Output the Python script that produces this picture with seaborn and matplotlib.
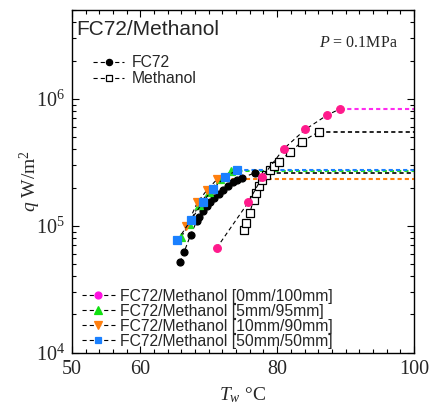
import matplotlib
matplotlib.use("Agg")
import matplotlib.pyplot as plt
import seaborn as sns
import pandas as pd
from matplotlib.lines import Line2D
from matplotlib.ticker import FixedLocator, FixedFormatter, MultipleLocator, NullFormatter

# ---------------- data ----------------
fc72_T = [65.79, 66.37, 67.35, 68.23, 68.61, 69.20, 69.69, 70.18, 70.76, 71.54,
          72.15, 72.85, 73.49, 74.17, 74.93, 76.75]
fc72_q = [5.15e4, 6.16e4, 8.49e4, 1.08e5, 1.18e5, 1.30e5, 1.42e5, 1.53e5, 1.65e5, 1.79e5,
          1.92e5, 2.05e5, 2.20e5, 2.31e5, 2.39e5, 2.61e5]

meth_T = [75.19, 75.48, 76.02, 76.54, 76.90, 77.34, 77.85, 78.36, 78.95, 79.53,
          80.26, 81.87, 83.63, 86.07]
meth_q = [9.29e4, 1.05e5, 1.27e5, 1.60e5, 1.81e5, 2.04e5, 2.31e5, 2.53e5, 2.77e5, 2.98e5,
          3.20e5, 3.79e5, 4.60e5, 5.49e5]

m0_T = [71.15, 75.78, 77.82, 80.95, 84.11, 87.28, 89.23]
m0_q = [6.67e4, 1.53e5, 2.42e5, 4.03e5, 5.73e5, 7.42e5, 8.34e5]

m5_T = [66.01, 67.11, 68.57, 70.03, 71.64, 73.32]
m5_q = [8.19e4, 1.04e5, 1.46e5, 1.85e5, 2.35e5, 2.69e5]

m10_T = [66.74, 68.35, 69.74, 71.27]
m10_q = [9.87e4, 1.53e5, 1.91e5, 2.34e5]

m50_T = [65.42, 67.40, 69.20, 70.57, 72.44, 74.08]
m50_q = [7.68e4, 1.11e5, 1.55e5, 1.95e5, 2.43e5, 2.73e5]

T_max = 100  # right end of the CHF extension lines (axis limit)

labels_top = ["FC72", "Methanol"]
labels_mix = ["FC72/Methanol [0mm/100mm]", "FC72/Methanol [5mm/95mm]",
              "FC72/Methanol [10mm/90mm]", "FC72/Methanol [50mm/50mm]"]
x_tick_vals = [50, 60, 80, 100]
y_tick_vals = [1e4, 1e5, 1e6]

# ---------------- style ----------------
sns.set_style("ticks")
plt.rcParams.update({
    "font.family": ["Liberation Sans", "DejaVu Sans"],
    "mathtext.fontset": "custom",
    "mathtext.rm": "Liberation Serif",
    "mathtext.it": "Liberation Serif:italic",
    "mathtext.bf": "Liberation Serif:bold",
    "lines.scale_dashes": False,
    "lines.dashed_pattern": [3.0, 2.2],
})

fig = plt.figure(figsize=(4.3, 4.05), dpi=100)
ax = fig.add_axes([0.1674, 0.1291, 0.7953, 0.8462])
ax.set_yscale("log")

C_MAG = "#ff1a8c"
C_MAG_L = "#ff2bf0"
C_GRN = "#22e022"
C_ORG = "#ff7f0e"
C_BLU = "#1a80ff"

def ext(T, q, color, lw):
    d = pd.DataFrame({"T": [T[-1], T_max], "q": [q[-1], q[-1]]})
    sns.lineplot(data=d, x="T", y="q", ax=ax, color=color, lw=lw, linestyle="--",
                 estimator=None, sort=False, zorder=1)

def series(T, q, marker, ms, fc, ec, z):
    d = pd.DataFrame({"T": T, "q": q})
    sns.lineplot(data=d, x="T", y="q", ax=ax, color="black", lw=0.8, linestyle="--",
                 marker=marker, markersize=ms, markerfacecolor=fc,
                 markeredgecolor=ec, markeredgewidth=0.9, estimator=None, sort=False,
                 zorder=z)

# extension (CHF) lines
ext(fc72_T, fc72_q, "black", 1.2)
ext(meth_T, meth_q, "black", 1.2)
ext(m0_T, m0_q, C_MAG_L, 1.5)
ext(m10_T, m10_q, C_ORG, 1.5)
ext(m5_T, m5_q, C_GRN, 1.5)
ext(m50_T, m50_q, C_BLU, 1.5)

series(fc72_T, fc72_q, "o", 5, "black", "black", 3)
series(meth_T, meth_q, "s", 5.5, "white", "black", 3)
series(m0_T, m0_q, "o", 5.5, C_MAG, C_MAG, 4)
series(m5_T, m5_q, "^", 6, C_GRN, C_GRN, 4)
series(m10_T, m10_q, "v", 6, C_ORG, C_ORG, 4)
series(m50_T, m50_q, "s", 5.5, C_BLU, C_BLU, 5)

# ---------------- axes ----------------
ax.set_xlim(50, 100)
ax.set_ylim(1e4, 5e6)
ax.xaxis.set_major_locator(FixedLocator(x_tick_vals))
ax.xaxis.set_major_formatter(FixedFormatter([f"{v}" for v in x_tick_vals]))
ax.xaxis.set_minor_locator(MultipleLocator(2))
ax.yaxis.set_major_locator(FixedLocator(y_tick_vals))
ax.yaxis.set_major_formatter(FixedFormatter([r"$\mathregular{10^{4}}$",
                                             r"$\mathregular{10^{5}}$",
                                             r"$\mathregular{10^{6}}$"]))
ax.yaxis.set_minor_locator(matplotlib.ticker.LogLocator(base=10, subs=range(2, 10)))
ax.yaxis.set_minor_formatter(NullFormatter())
ax.tick_params(which="both", direction="in", top=True, right=True, color="black",
               width=0.8)
ax.tick_params(which="major", length=5, pad=5, labelsize=14.5)
ax.tick_params(which="minor", length=3)
for lab in ax.get_xticklabels() + ax.get_yticklabels():
    lab.set_fontfamily("Liberation Serif")
for s in ax.spines.values():
    s.set_color("black")
    s.set_linewidth(1.0)

ax.set_xlabel(r"$T_w$ °C", fontsize=14, fontfamily="Liberation Serif")
ax.set_ylabel(r"$q$ W/m$^2$", fontsize=14, fontfamily="Liberation Serif")
ax.xaxis.set_label_coords(0.5, -0.095)
ax.yaxis.set_label_coords(-0.085, 0.5)

ax.text(0.012, 0.942, "FC72/Methanol", transform=ax.transAxes, fontsize=15,
        va="center", ha="left", family="Liberation Sans")
ax.text(0.953, 0.904, r"$P$ = 0.1MPa", transform=ax.transAxes, fontsize=11.5,
        va="center", ha="right", family="Liberation Serif")

# ---------------- legends ----------------
def h(marker, fc, ec, ms):
    return Line2D([], [], color="black", lw=0.8, linestyle="--", marker=marker,
                  markersize=ms, markerfacecolor=fc, markeredgecolor=ec,
                  markeredgewidth=0.9)

leg1 = ax.legend([h("o", "black", "black", 4.5), h("s", "white", "black", 5)], labels_top,
                 loc="upper left", bbox_to_anchor=(0.0614, 0.868), frameon=False,
                 borderpad=0, borderaxespad=0, handlelength=2.0, handletextpad=0.45,
                 labelspacing=0.08, prop={"family": "Liberation Sans", "size": 11.3})
ax.add_artist(leg1)
ax.legend([h("o", "#ff10e0", "#ff10e0", 5), h("^", "#10e010", "#10e010", 5.5),
           h("v", C_ORG, C_ORG, 5.5), h("s", C_BLU, C_BLU, 5)], labels_mix,
          loc="lower left", bbox_to_anchor=(0.028, 0.012), frameon=False,
          borderpad=0, borderaxespad=0, handlelength=2.1, handletextpad=0.35,
          labelspacing=0.0, prop={"family": "Liberation Sans", "size": 11.3})

fig.savefig("out.png", dpi=100)
